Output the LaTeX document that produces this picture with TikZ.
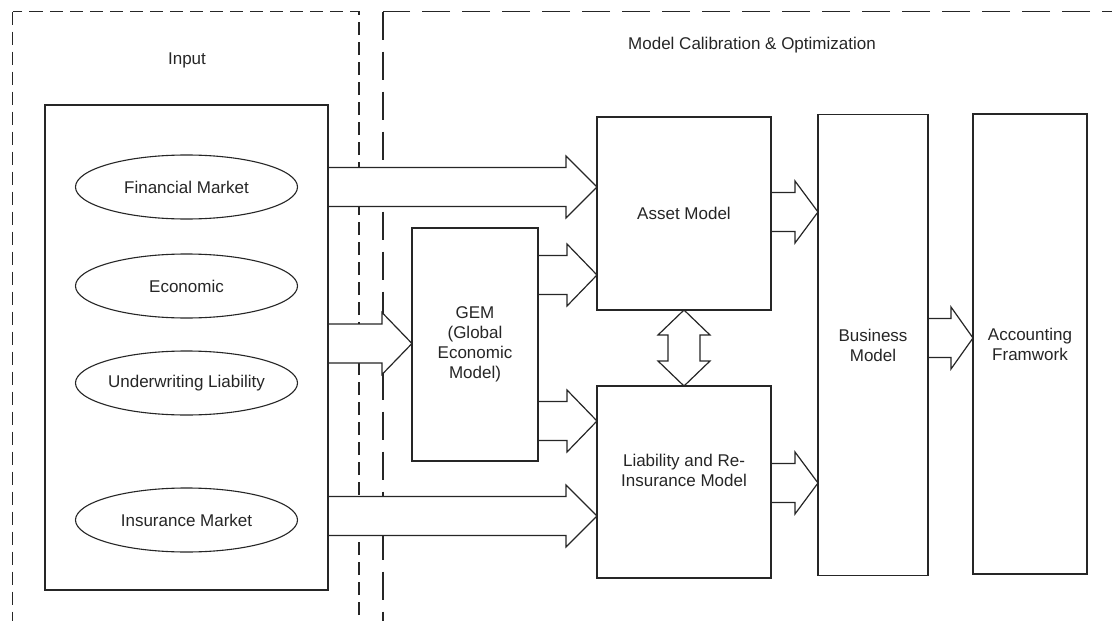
\documentclass[tikz,border=0pt]{standalone}
\usepackage{fontspec}
\setmainfont{Liberation Sans}
\usetikzlibrary{calc,shapes.geometric}
\pgfdeclarelayer{dashlayer}
\pgfdeclarelayer{arrowlayer}
\pgfsetlayers{dashlayer,arrowlayer,main}
\definecolor{ink}{gray}{0.15}
\newcommand\blockarrow[3]{%
  \draw[barrow] let \p1=#1, \p2=#2 in
    ({\x1},{\y2+19.5pt}) -- ({\x2-#3pt},{\y2+19.5pt}) -- ({\x2-#3pt},{\y2+31pt})
    -- (\x2,\y2) -- ({\x2-#3pt},{\y2-31pt}) -- ({\x2-#3pt},{\y2-19.5pt}) -- ({\x1},{\y2-19.5pt});}
\begin{document}
\begin{tikzpicture}[x=1pt,y=-1pt,line width=1.1pt,draw=ink,
  every node/.style={font=\fontsize{17}{20}\selectfont,text=ink},
  box/.style={draw=ink,line width=1.1pt,fill=white,rectangle,inner sep=0pt,outer sep=0pt,align=center},
  oval/.style={draw=ink,line width=1.1pt,fill=white,ellipse,inner sep=0pt,outer sep=0pt,minimum width=222pt,minimum height=64pt},
  barrow/.style={draw=ink,line width=1.2pt,fill=white,line join=miter},
  frameA/.style={draw=ink,line width=1.2pt,dash pattern=on 13pt off 7pt},
  frameB/.style={draw=ink,line width=1.2pt,dash pattern=on 28pt off 12pt}]
\path[use as bounding box,clip] (0,0) rectangle (1112,621);
\begin{pgfonlayer}{dashlayer}
\draw[frameA] (12.5,11.5) rectangle (359,650);
\draw[frameB] (383,11.5) rectangle (1118,650);
\end{pgfonlayer}
\node (tin) at (187,60) {Input};
\node (tmc) at (752,45) {Model Calibration \& Optimization};
\node[box,minimum width=283pt,minimum height=485pt] (inp) at (186.5,347.5) {};
\node[oval] (fm) at (186.5,187) {Financial Market};
\node[oval] (ec) at (186.5,286) {Economic};
\node[oval] (ul) at (186.5,383) {Underwriting Liability};
\node[oval] (im) at (186.5,520) {Insurance Market};
\node[box,minimum width=126pt,minimum height=233pt] (gem) at (475,344.5) {GEM\\(Global\\Economic\\Model)};
\node[box,minimum width=174pt,minimum height=193pt] (asset) at (684,213.5) {Asset Model};
\node[box,minimum width=174pt,minimum height=192pt] (liab) at (684,482) {};
\node[align=center] (liabtxt) at ($(liab.center)+(0,-12)$) {Liability and Re-\\Insurance Model};
\node[box,minimum width=110pt,minimum height=461pt] (bus) at (873,345) {Business\\Model};
\node[box,minimum width=114pt,minimum height=460pt] (acc) at (1030,344) {Accounting\\Framwork};
\begin{pgfonlayer}{arrowlayer}
\blockarrow{(inp.east)}{(asset.west|-0,187)}{31}
\blockarrow{(inp.east)}{(liab.west|-0,516)}{31}
\blockarrow{(inp.east)}{(gem.west|-0,343.5)}{30}
\blockarrow{(gem.east)}{(asset.west|-0,275)}{30}
\blockarrow{(gem.east)}{(liab.west|-0,421)}{30}
\blockarrow{(asset.east)}{(bus.west|-0,212)}{23}
\blockarrow{(liab.east)}{(bus.west|-0,483)}{23}
\blockarrow{(bus.east)}{(acc.west|-0,338)}{22}
\draw[barrow] let \p1=(asset.south), \p2=(liab.north) in
  (\p1) -- ({\x1+26pt},{\y1-25pt}) -- ({\x1+16pt},{\y1-25pt}) -- ({\x1+16pt},{\y2+25pt})
  -- ({\x1+26pt},{\y2+25pt}) -- (\p2) -- ({\x1-26pt},{\y2+25pt}) -- ({\x1-16pt},{\y2+25pt})
  -- ({\x1-16pt},{\y1-25pt}) -- ({\x1-26pt},{\y1-25pt}) -- cycle;
\end{pgfonlayer}
\end{tikzpicture}
\end{document}
